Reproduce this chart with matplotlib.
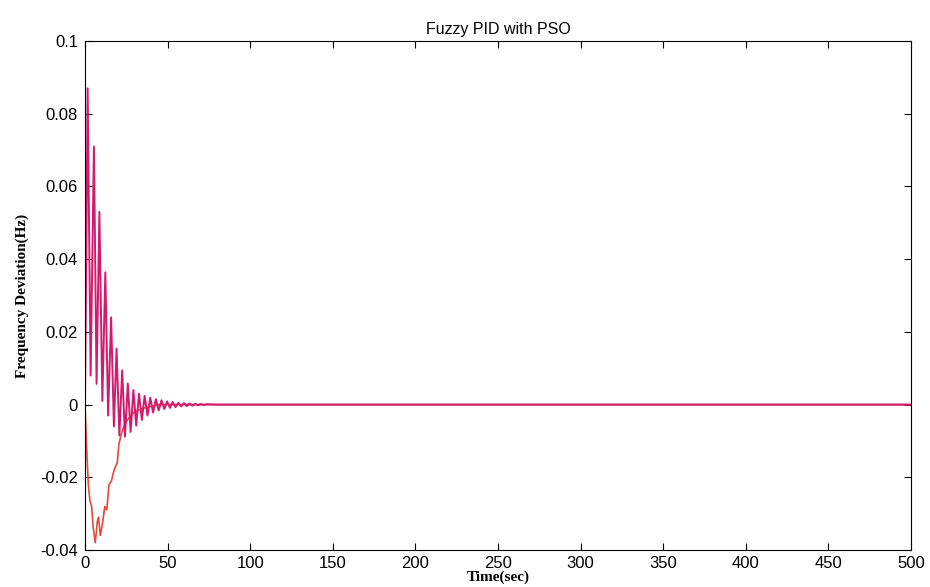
import matplotlib.pyplot as plt
from matplotlib.ticker import FixedLocator

# magenta response: peaks / troughs
t_mag = [0, 1.6, 3.4, 5.4, 7.0, 8.7, 10.5, 12.3, 14.0, 15.8, 17.5, 19.1, 20.8,
         22.5, 24.2, 25.9, 27.6, 29.3, 31.0, 32.7, 34.4, 36.1, 37.8, 39.5,
         41.2, 42.9, 44.6, 46.3, 48.0, 49.7, 51.4, 53.1, 54.8, 56.5, 58.2,
         59.9, 61.6, 63.3, 65.0, 66.7, 68.4, 70.1, 71.8, 73.5, 80, 500]
f_mag = [0, 0.087, 0.008, 0.071, 0.0057, 0.053, 0.001, 0.0364, -0.003, 0.024,
         -0.006, 0.0154, -0.0085, 0.0094, -0.0088, 0.0058, -0.0075, 0.0040,
         -0.0058, 0.0030, -0.0042, 0.0024, -0.0030, 0.0019, -0.0022, 0.0015,
         -0.0016, 0.0012, -0.0012, 0.0009, -0.0009, 0.0007, -0.0007, 0.0005,
         -0.0005, 0.0004, -0.0004, 0.0003, -0.0003, 0.0002, -0.0002, 0.00015,
         -0.00012, 0.0001, 0, 0]

# red response
t_red = [0, 1, 2, 3, 4, 5, 6.2, 7.5, 8.2, 9.3, 10.5, 12, 13.2, 14.5, 16, 17,
         18, 19.5, 20.5, 22, 23.5, 26, 30, 35, 45, 500]
f_red = [0, -0.012, -0.022, -0.0265, -0.028, -0.034, -0.038, -0.032, -0.031,
         -0.036, -0.033, -0.028, -0.029, -0.022, -0.021, -0.019, -0.0175,
         -0.016, -0.011, -0.008, -0.006, -0.004, -0.002, -0.001, 0, 0]

x_ticks = [0, 50, 100, 150, 200, 250, 300, 350, 400, 450, 500]
y_ticks = [-0.04, -0.02, 0, 0.02, 0.04, 0.06, 0.08, 0.1]
y_labels = ['-0.04', '-0.02', '0', '0.02', '0.04', '0.06', '0.08', '0.1']

plt.rcParams['font.family'] = ['Liberation Sans', 'DejaVu Sans']

fig = plt.figure(figsize=(9.3, 5.87), dpi=100)
ax = fig.add_axes([0.0914, 0.063, 0.8882, 0.867])

ax.plot(t_red, f_red, color='#e5483c', lw=1.2)
ax.plot(t_mag, f_mag, color='#d21a6e', lw=1.4)

ax.set_xlim(0, 500)
ax.set_ylim(-0.04, 0.1)
ax.xaxis.set_major_locator(FixedLocator(x_ticks))
ax.set_yticks(y_ticks)
ax.set_yticklabels(y_labels)
ax.tick_params(direction='in', top=True, right=True, length=5, width=0.8,
               labelsize=12, pad=5)
ax.tick_params(axis='x', pad=4)
for s in ax.spines.values():
    s.set_linewidth(0.8)

ax.set_title('Fuzzy PID with PSO', fontsize=11.5, pad=5)
ax.set_xlabel('Time(sec)', family=['Liberation Serif'], fontweight='bold',
              fontsize=11, labelpad=0)
ax.set_ylabel('Frequency Deviation(Hz)', family=['Liberation Serif'],
              fontweight='bold', fontsize=11, labelpad=8)

fig.savefig('out.png', dpi=100)
